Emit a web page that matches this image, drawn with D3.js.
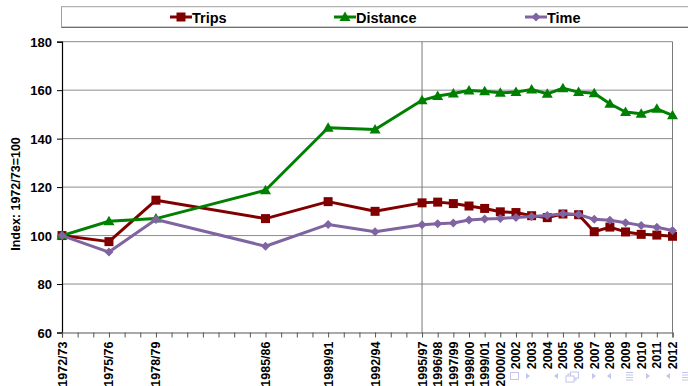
<!DOCTYPE html>
<html>
<head>
<meta charset="utf-8">
<script src="https://cdn.jsdelivr.net/npm/d3@7"></script>
<style>
  html, body { margin: 0; padding: 0; background: #fff; }
  svg { display: block; }
  text { font-family: "Liberation Sans", Arial, sans-serif; font-weight: bold; fill: #000; }
</style>
</head>
<body>
<svg id="chart" width="688" height="386"></svg>
<script>
// Survey periods and their slot on the yearly axis (one slot per year from 1972/73)
const categories = ["1972/73","1975/76","1978/79","1985/86","1989/91","1992/94","1995/97","1996/98","1997/99","1998/00","1999/01","2000/02","2002","2003","2004","2005","2006","2007","2008","2009","2010","2011","2012"];
const slots = [0,3,6,13,17,20,23,24,25,26,27,28,29,30,31,32,33,34,35,36,37,38,39];
const slotCount = 40;

// Index values, 1972/73 = 100
const trips    = [100, 97.5, 114.6, 107.0, 114.0, 110.0, 113.5, 113.8, 113.2, 112.2, 111.2, 109.8, 109.5, 108.2, 107.4, 108.9, 108.6, 101.6, 103.5, 101.5, 100.5, 100.2, 99.7];
const distance = [100, 105.9, 107.0, 118.7, 144.5, 143.8, 155.8, 157.6, 158.6, 159.9, 159.6, 158.9, 159.2, 160.3, 158.5, 160.8, 159.2, 158.7, 154.4, 151.0, 150.3, 152.3, 149.6];
const time     = [100, 93.2, 106.6, 95.6, 104.6, 101.6, 104.5, 104.9, 105.2, 106.4, 106.8, 107.0, 107.5, 107.9, 108.3, 109.0, 108.7, 106.7, 106.3, 105.3, 104.2, 103.4, 102.1];

const yTicks = [60, 80, 100, 120, 140, 160, 180];
const seriesNames = ["Trips", "Distance", "Time"];
const yTitle = "Index: 1972/73=100";

const svg = d3.select("#chart");
const plot = { left: 62, right: 672.5, top: 41.7, bottom: 332.5 };

const x = d3.scaleLinear().domain([0, slotCount - 1]).range([plot.left, plot.right]);
const y = d3.scaleLinear().domain([60, 180]).range([plot.bottom, plot.top]);

const series = [
  { name: seriesNames[0], values: trips,    color: "#800000", marker: "square" },
  { name: seriesNames[1], values: distance, color: "#008000", marker: "triangle" },
  { name: seriesNames[2], values: time,     color: "#8064a2", marker: "diamond" }
];

function markerPath(type) {
  if (type === "square") return "M-4.5,-4.5H4.5V4.5H-4.5Z";
  if (type === "triangle") return "M0,-5.5L5.5,4L-5.5,4Z";
  return "M0,-4.5L4.5,0L0,4.5L-4.5,0Z";
}

// Horizontal gridlines
svg.append("g")
  .selectAll("line")
  .data(yTicks.filter(v => v > 60))
  .join("line")
  .attr("x1", plot.left).attr("x2", plot.right)
  .attr("y1", d => y(d)).attr("y2", d => y(d))
  .attr("stroke", "#8c8c8c").attr("stroke-width", 1);

// Vertical reference lines at 1995/97 and the last period
svg.append("g")
  .selectAll("line")
  .data([23, 39])
  .join("line")
  .attr("x1", d => x(d)).attr("x2", d => x(d))
  .attr("y1", plot.top).attr("y2", plot.bottom)
  .attr("stroke", "#7a7a7a").attr("stroke-width", 1);

// Y axis
const yAxis = d3.axisLeft(y).tickValues(yTicks).tickSize(5).tickPadding(5).tickFormat(d3.format("d"));
const gy = svg.append("g").attr("transform", `translate(${plot.left},0)`).call(yAxis);
gy.select(".domain").attr("stroke", "#000").attr("stroke-width", 1.2);
gy.selectAll(".tick line").attr("stroke", "#000");
gy.selectAll(".tick text").style("font-size", "13px").attr("dy", "0.35em");

// X axis: a tick for every year slot, labels only at survey periods
const xAxis = d3.axisBottom(x).tickValues(d3.range(slotCount)).tickSize(5).tickFormat("");
const gx = svg.append("g").attr("transform", `translate(0,${plot.bottom})`).call(xAxis);
gx.select(".domain").attr("stroke", "#555").attr("stroke-width", 1.2);
gx.selectAll(".tick line").attr("stroke", "#555");

svg.append("g")
  .selectAll("text")
  .data(categories)
  .join("text")
  .attr("transform", (d, i) => `translate(${x(slots[i]) + 4.5},${plot.bottom + 9}) rotate(-90)`)
  .attr("text-anchor", "end")
  .style("font-size", "12.5px")
  .text(d => d);

// Y axis title
svg.append("text")
  .attr("transform", `translate(19.5,194) rotate(-90)`)
  .attr("text-anchor", "middle")
  .style("font-size", "12.5px")
  .text(yTitle);

// Series lines and markers
const line = d3.line().x((d, i) => x(slots[i])).y(d => y(d));
series.forEach(s => {
  const g = svg.append("g");
  g.append("path")
    .datum(s.values)
    .attr("d", line)
    .attr("fill", "none")
    .attr("stroke", s.color)
    .attr("stroke-width", 3)
    .attr("stroke-linejoin", "round");
  g.selectAll("path.m")
    .data(s.values)
    .join("path")
    .attr("class", "m")
    .attr("transform", (d, i) => `translate(${x(slots[i])},${y(d)})`)
    .attr("d", markerPath(s.marker))
    .attr("fill", s.color);
});

// Legend
const legend = svg.append("g");
legend.append("rect")
  .attr("x", 61.5).attr("y", 6.7).attr("width", 640).attr("height", 20.6)
  .attr("fill", "#fff").attr("stroke", "#a0a0a0").attr("stroke-width", 1);
legend.append("line")
  .attr("x1", 61.5).attr("x2", 688).attr("y1", 27.3).attr("y2", 27.3)
  .attr("stroke", "#6e6e6e").attr("stroke-width", 1.2);

const legendX = [181, 345, 536];
series.forEach((s, i) => {
  const cx = legendX[i];
  legend.append("line")
    .attr("x1", cx - 11).attr("x2", cx + 11).attr("y1", 17).attr("y2", 17)
    .attr("stroke", s.color).attr("stroke-width", 3);
  legend.append("path")
    .attr("transform", `translate(${cx},17)`)
    .attr("d", markerPath(s.marker))
    .attr("fill", s.color);
  legend.append("text")
    .attr("x", cx + 11).attr("y", 22.5)
    .style("font-size", "14.5px")
    .text(s.name);
});

// Slide navigation symbols along the bottom edge
const nav = svg.append("g").attr("fill", "#c4c4ec").attr("stroke", "#c4c4ec");
nav.append("rect").attr("x", 510.5).attr("y", 372.5).attr("width", 8).attr("height", 7).attr("fill", "none");
const tri = (cx, dir) => `M${cx - 2 * dir},373L${cx + 2 * dir},376L${cx - 2 * dir},379Z`;
[[528, 1], [556, -1], [594, 1], [609, -1], [648, 1], [668, -1]].forEach(([cx, dir]) => {
  nav.append("path").attr("d", tri(cx, dir)).attr("stroke", "none");
});
[[568, 374], [570.5, 372], [566, 376]].forEach(([rx, ry]) => {
  nav.append("rect").attr("x", rx).attr("y", ry).attr("width", 8).attr("height", 6).attr("fill", "#fff");
});
[626, 682].forEach(lx => {
  [372.5, 375, 377.5, 380].forEach(ly => {
    nav.append("line").attr("x1", lx).attr("x2", lx + 7).attr("y1", ly).attr("y2", ly).attr("stroke-width", 1);
  });
});
</script>
</body>
</html>
